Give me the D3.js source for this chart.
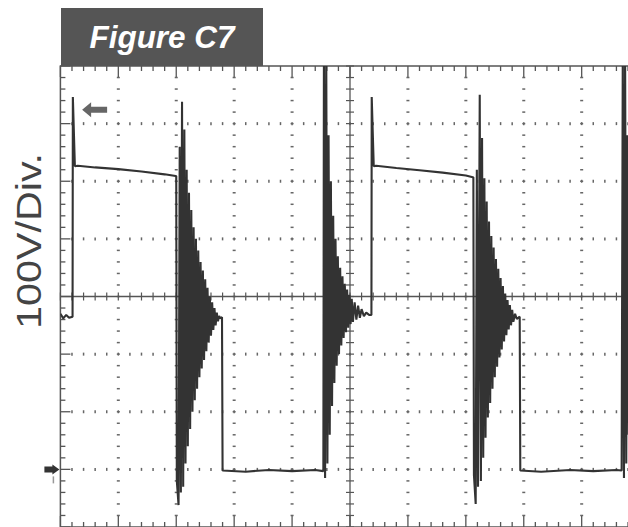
<!DOCTYPE html>
<html>
<head>
<meta charset="utf-8">
<script src="https://cdn.jsdelivr.net/npm/d3@7"></script>
<style>
    body { margin: 0; background: #fff; }
    svg { display: block; }
</style>
</head>
<body>
<div id="chart"></div>
<script>
// Scope trace, time in divisions (10 across), volts (100V/div, ground = 0V)
const startT = [0.00, 0.05, 0.10, 0.15, 0.21];
const startV = [270, 262, 268, 263, 265];

const pulse1T = [0.215, 0.25, 0.30, 0.60, 1.00, 1.40, 1.80, 1.99];
const pulse1V = [646, 526, 527, 524, 521, 517, 512, 509];

const ringOff1T = [2.00, 2.01, 2.04, 2.06, 2.08, 2.10, 2.12, 2.14, 2.16, 2.18, 2.20, 2.22, 2.24, 2.26, 2.28, 2.30, 2.32, 2.34, 2.36, 2.38,
    2.40, 2.42, 2.44, 2.46, 2.48, 2.50, 2.52, 2.54, 2.56, 2.58, 2.60, 2.62, 2.64, 2.66, 2.68, 2.70, 2.72, 2.74, 2.76, 2.79];
const ringOff1V = [509, -20, -62, 560, -40, 638, -30, 590, 10, 520, 40, 480, 70, 450, 100, 420, 120, 400, 140, 380,
    160, 360, 175, 345, 190, 330, 205, 315, 220, 300, 232, 290, 242, 280, 250, 272, 257, 266, 262, 264];

const low1T = [2.80, 3.20, 3.60, 4.00, 4.40, 4.54];
const low1V = [-2, -4, -1, -3, -1, -3];

const ringOn1T = [4.55, 4.57, 4.59, 4.61, 4.63, 4.65, 4.67, 4.69, 4.71, 4.73, 4.75, 4.77, 4.79, 4.81, 4.83, 4.85, 4.87, 4.89,
    4.91, 4.93, 4.95, 4.97, 4.99, 5.01, 5.03, 5.05, 5.08, 5.11, 5.14, 5.17, 5.20, 5.24, 5.28, 5.33, 5.37];
const ringOn1V = [740, -15, 720, 10, 580, 60, 500, 110, 440, 150, 400, 180, 370, 200, 350, 215, 335, 228,
    322, 238, 312, 246, 303, 252, 296, 256, 290, 260, 284, 263, 278, 266, 272, 268, 268];

const pulse2T = [5.375, 5.41, 5.45, 5.80, 6.20, 6.60, 7.00, 7.12];
const pulse2V = [646, 526, 527, 523, 519, 515, 510, 507];

const ringOff2T = [7.13, 7.14, 7.17, 7.19, 7.21, 7.24, 7.26, 7.28, 7.30, 7.32, 7.34, 7.36, 7.38, 7.40, 7.42, 7.44, 7.46, 7.48, 7.50,
    7.52, 7.54, 7.56, 7.58, 7.60, 7.62, 7.64, 7.66, 7.68, 7.70, 7.72, 7.74, 7.76, 7.78, 7.80, 7.82, 7.85, 7.88, 7.93];
const ringOff2V = [507, -10, -60, 520, -30, 650, -20, 575, 20, 505, 55, 465, 90, 430, 115, 405, 140, 385, 160,
    365, 178, 348, 194, 332, 208, 318, 222, 305, 233, 294, 243, 285, 250, 277, 256, 270, 261, 265];

const low2T = [7.94, 8.30, 8.80, 9.20, 9.60, 9.69];
const low2V = [-2, -4, -1, -3, -1, -2];

const ringOn2T = [9.71, 9.73, 9.75, 9.77, 9.79, 9.81, 9.83, 9.85, 9.87, 9.89];
const ringOn2V = [740, -15, 720, 10, 580, 60, 500, 110, 440, 150];

const titleText = "Figure C7";
const yLabelText = "100V/Div.";

const segments = [
    [startT, startV], [pulse1T, pulse1V], [ringOff1T, ringOff1V], [low1T, low1V], [ringOn1T, ringOn1V],
    [pulse2T, pulse2V], [ringOff2T, ringOff2V], [low2T, low2V], [ringOn2T, ringOn2V]
];
const trace = segments.flatMap(([t, v]) => t.map((d, i) => ({ t: d, v: v[i] })));

const width = 628, height = 527;
const plot = { left: 60.4, right: 639.6, top: 66, bottom: 527 };

const svg = d3.select("#chart").append("svg")
    .attr("width", width)
    .attr("height", height);

const x = d3.scaleLinear().domain([0, 10]).range([plot.left, plot.right]);
const y = d3.scaleLinear().domain([-100, 700]).range([plot.bottom, plot.top]);

const minorX = d3.range(0, 50.5).map((i) => i / 5);      // every 0.2 div
const minorY = d3.range(0, 40.5).map((i) => -100 + i * 20); // every 20 V
const majorX = d3.range(1, 10).filter((d) => d !== 5);
const majorY = [0, 100, 200, 400, 500, 600];

const gridColor = "#666";
const grid = svg.append("g");

// dotted major rows
majorY.forEach((v) => {
    grid.selectAll(null)
        .data(minorX.slice(1, -1))
        .join("line")
        .attr("x1", (d) => x(d)).attr("x2", (d) => x(d))
        .attr("y1", y(v) - 1.5).attr("y2", y(v) + 1.5)
        .attr("stroke", gridColor).attr("stroke-width", 1.5);
});

// dotted major columns
majorX.forEach((t) => {
    grid.selectAll(null)
        .data(minorY.slice(1, -1))
        .join("line")
        .attr("x1", x(t) - 1.5).attr("x2", x(t) + 1.5)
        .attr("y1", (d) => y(d)).attr("y2", (d) => y(d))
        .attr("stroke", gridColor).attr("stroke-width", 1.5);
});

// center axes with cross ticks
grid.append("line")
    .attr("x1", plot.left).attr("x2", plot.right)
    .attr("y1", y(300)).attr("y2", y(300))
    .attr("stroke", "#555").attr("stroke-width", 1.3);
grid.append("line")
    .attr("x1", x(5)).attr("x2", x(5))
    .attr("y1", plot.top).attr("y2", plot.bottom)
    .attr("stroke", "#555").attr("stroke-width", 1.3);
grid.selectAll(null)
    .data(minorX)
    .join("line")
    .attr("x1", (d) => x(d)).attr("x2", (d) => x(d))
    .attr("y1", y(300) - 4).attr("y2", y(300) + 4)
    .attr("stroke", "#555").attr("stroke-width", 1.2);
grid.selectAll(null)
    .data(minorY)
    .join("line")
    .attr("x1", x(5) - 4).attr("x2", x(5) + 4)
    .attr("y1", (d) => y(d)).attr("y2", (d) => y(d))
    .attr("stroke", "#555").attr("stroke-width", 1.2);

// border with inward ticks
grid.append("rect")
    .attr("x", plot.left).attr("y", plot.top)
    .attr("width", plot.right - plot.left).attr("height", plot.bottom - plot.top)
    .attr("fill", "none").attr("stroke", "#555").attr("stroke-width", 1.5);

const isMajor = (d, step) => Math.abs(d / step - Math.round(d / step)) < 1e-6;

grid.selectAll(null)
    .data(minorX)
    .join("line")
    .attr("x1", (d) => x(d)).attr("x2", (d) => x(d))
    .attr("y1", plot.top).attr("y2", (d) => plot.top + (isMajor(d, 1) ? 11 : 5))
    .attr("stroke", "#555").attr("stroke-width", 1.3);
grid.selectAll(null)
    .data(minorX)
    .join("line")
    .attr("x1", (d) => x(d)).attr("x2", (d) => x(d))
    .attr("y1", plot.bottom).attr("y2", (d) => plot.bottom - (isMajor(d, 1) ? 11 : 5))
    .attr("stroke", "#555").attr("stroke-width", 1.3);
grid.selectAll(null)
    .data(minorY)
    .join("line")
    .attr("x1", plot.left).attr("x2", (d) => plot.left + (isMajor(d, 100) ? 10 : 5))
    .attr("y1", (d) => y(d)).attr("y2", (d) => y(d))
    .attr("stroke", "#555").attr("stroke-width", 1.3);

// trace
svg.append("clipPath")
    .attr("id", "plotClip")
    .append("rect")
    .attr("x", plot.left).attr("y", plot.top)
    .attr("width", plot.right - plot.left).attr("height", plot.bottom - plot.top);

const line = d3.line()
    .x((d) => x(d.t))
    .y((d) => y(d.v));

svg.append("path")
    .datum(trace)
    .attr("clip-path", "url(#plotClip)")
    .attr("d", line)
    .attr("fill", "none")
    .attr("stroke", "#333")
    .attr("stroke-width", 2.1)
    .attr("stroke-linejoin", "bevel");

// channel marker arrows
const ax = x(0.375), ay = y(624);
svg.append("path")
    .attr("d", `M${ax},${ay} l9,-7.5 v4.5 h16 v6 h-16 v4.5 z`)
    .attr("fill", "#666");

const gy = y(0);
svg.append("path")
    .attr("d", `M${plot.left - 1},${gy} l-7,-5 v2 h-8 v6 h8 v2 z`)
    .attr("fill", "#333");
svg.append("line")
    .attr("x1", plot.left - 7).attr("x2", plot.left - 7)
    .attr("y1", gy + 7).attr("y2", gy + 14)
    .attr("stroke", "#999").attr("stroke-width", 1.5);

// title box
svg.append("rect")
    .attr("x", 61).attr("y", 8)
    .attr("width", 202).attr("height", 58)
    .attr("fill", "#555");
svg.append("text")
    .attr("x", 162).attr("y", 48)
    .attr("text-anchor", "middle")
    .attr("font-family", "'Liberation Sans', Arial, sans-serif")
    .attr("font-size", "31px")
    .attr("font-weight", "bold")
    .attr("font-style", "italic")
    .attr("fill", "#fff")
    .attr("textLength", 145)
    .attr("lengthAdjust", "spacingAndGlyphs")
    .text(titleText);

// y axis label
svg.append("text")
    .attr("transform", "translate(41,241) rotate(-90)")
    .attr("text-anchor", "middle")
    .attr("font-family", "'Liberation Sans', Arial, sans-serif")
    .attr("font-size", "35px")
    .attr("fill", "#444")
    .attr("textLength", 176)
    .attr("lengthAdjust", "spacingAndGlyphs")
    .text(yLabelText);
</script>
</body>
</html>
